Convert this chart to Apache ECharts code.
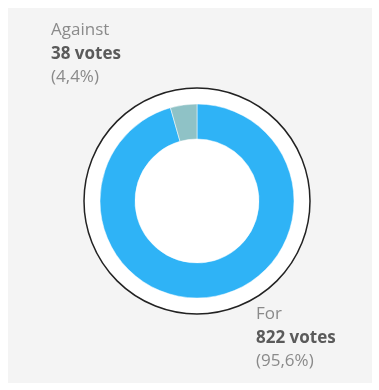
<!DOCTYPE html>
<html><head><meta charset="utf-8">
<script src="https://cdn.jsdelivr.net/npm/echarts@6/dist/echarts.min.js"></script>
<style>html,body{margin:0;padding:0;background:#fff}#c{width:379px;height:390px}</style>
</head><body><div id="c"></div>
<script>
const categories = ['For', 'Against'];
const votes = [822, 38];
const percentLabels = ['95,6%', '4,4%'];

const chart = echarts.init(document.getElementById('c'), null, {renderer: 'canvas'});
const colors = ['#2fb3f6', '#8fc2c6'];
const labelPos = [[256, 306], [51, 22]];

const texts = categories.map((c, i) => ({
  type: 'text', left: labelPos[i][0], top: labelPos[i][1], z: 10,
  style: {
    text: '{a|' + c + '}\n{b|' + votes[i] + ' votes}\n{a|(' + percentLabels[i] + ')}',
    rich: {
      a: {fontFamily: 'Open Sans', fontSize: 17, fill: '#8a8a8a', lineHeight: 23.5},
      b: {fontFamily: 'Open Sans', fontSize: 17, fontWeight: 'bold', fill: '#5a5a5a', lineHeight: 23.5}
    }
  }
}));

chart.setOption({
  backgroundColor: '#ffffff',
  animation: false,
  graphic: [
    {type: 'rect', shape: {x: 8, y: 8, width: 364, height: 375}, style: {fill: '#f4f4f4'}, z: -10},
    {type: 'circle', shape: {cx: 197, cy: 201, r: 113}, style: {fill: '#ffffff', stroke: '#222222', lineWidth: 1.5}, z: -5}
  ].concat(texts),
  series: [{
    type: 'pie',
    center: [197, 201],
    radius: [62, 97],
    startAngle: 90,
    clockwise: true,
    label: {show: false},
    labelLine: {show: false},
    silent: true,
    itemStyle: {borderColor: '#ffffff', borderWidth: 0.5},
    data: categories.map((c, i) => ({name: c, value: votes[i], itemStyle: {color: colors[i]}}))
  }]
});
</script></body></html>
